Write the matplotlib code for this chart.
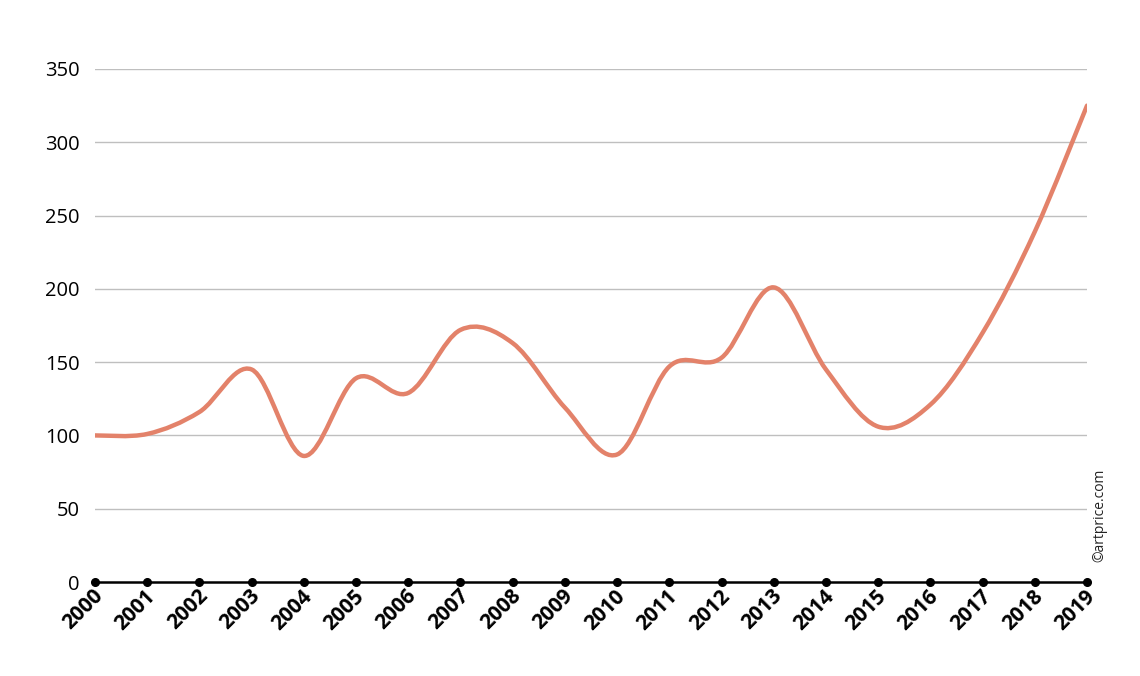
import numpy as np
import matplotlib
matplotlib.use('Agg')
import matplotlib.pyplot as plt
from matplotlib.path import Path
from matplotlib.patches import PathPatch
import matplotlib.transforms as mtransforms

plt.rcParams['font.family'] = ['Open Sans', 'DejaVu Sans']

# index values
years = list(range(2000, 2020))
values = [100, 101, 116, 145, 86, 139, 129, 172, 163, 119,
          87, 147, 153, 201, 145, 106, 121, 170, 239, 325]
y_ticks = [0, 50, 100, 150, 200, 250, 300, 350]

line_color = '#E3826A'


# smoothed line through the points (Catmull-Rom as cubic Bezier)
def smooth_path(xs, ys):
    pts = np.column_stack([xs, ys]).astype(float)
    verts = [pts[0]]
    codes = [Path.MOVETO]
    n = len(pts)
    for i in range(n - 1):
        p0 = pts[i - 1] if i > 0 else pts[i]
        p1 = pts[i]
        p2 = pts[i + 1]
        p3 = pts[i + 2] if i + 2 < n else pts[i + 1]
        c1 = p1 + (p2 - p0) / 6.0
        c2 = p2 - (p3 - p1) / 6.0
        verts += [c1, c2, p2]
        codes += [Path.CURVE4] * 3
    return Path(verts, codes)


fig = plt.figure(figsize=(11.4, 6.76), dpi=100)
ax = fig.add_axes([95 / 1140, 1 - 582 / 676, (1087 - 95) / 1140, (582 - 69) / 676])

ax.set_xlim(years[0], years[-1])
ax.set_ylim(0, 350)

for v in y_ticks[1:]:
    ax.axhline(v, color='#BFBFBF', linewidth=1, zorder=1)

ax.add_patch(PathPatch(smooth_path(years, values), fill=False,
                       edgecolor=line_color, linewidth=3.2, zorder=3,
                       capstyle='round', joinstyle='round'))

# x axis line with dots
ax.plot([years[0], years[-1]], [0, 0], color='black', linewidth=1.8,
        zorder=4, clip_on=False)
ax.plot(years, [0] * len(years), 'o', color='black', markersize=5.5,
        zorder=5, clip_on=False)

for s in ax.spines.values():
    s.set_visible(False)

ax.set_yticks(y_ticks)
ax.set_yticklabels([str(v) for v in y_ticks], fontsize=14.5)
ax.tick_params(axis='y', length=0, pad=11)

ax.set_xticks(years)
ax.set_xticklabels([])
ax.tick_params(axis='x', length=0)
offset = mtransforms.ScaledTranslation(5 / 100, -11 / 100, fig.dpi_scale_trans)
for yr in years:
    ax.text(yr, 0, str(yr), rotation=45, rotation_mode='anchor',
            ha='right', va='center', fontsize=15, fontweight='bold',
            transform=ax.transData + offset, clip_on=False)

fig.text(1100 / 1140, 1 - 515 / 676, '©artprice.com', rotation=90,
         ha='center', va='center', fontsize=10, color='#222222')

fig.savefig('out.png', dpi=100)
